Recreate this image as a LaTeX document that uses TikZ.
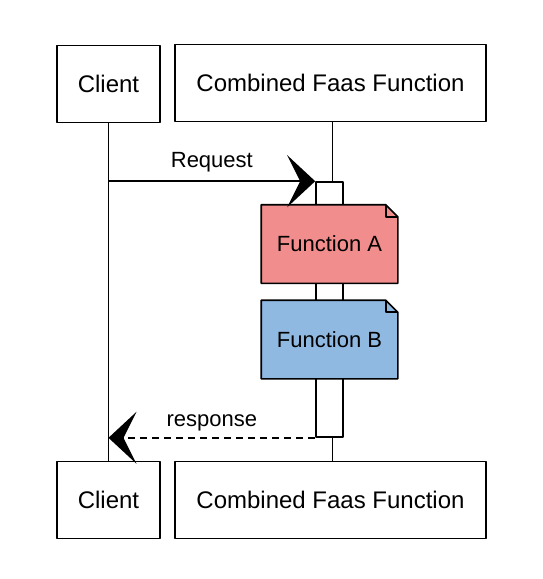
\documentclass[tikz,border=0pt]{standalone}
\usepackage{fontspec}
\setmainfont{Liberation Sans}
\usetikzlibrary{arrows.meta}
\definecolor{notered}{HTML}{F28D8D}
\definecolor{noteblue}{HTML}{8FB9E1}
\tikzstyle{actor} = [rectangle, draw, fill=white, minimum height=77pt,
    inner sep=0pt, font=\fontsize{24}{28}\selectfont]
\tikzstyle{note} = [rectangle, minimum width=135pt, minimum height=77pt,
    inner sep=0pt, font=\fontsize{22}{26}\selectfont]
\tikzstyle{bar} = [rectangle, draw, fill=white, minimum width=27pt,
    minimum height=255pt, inner sep=0pt]
\tikzstyle{msg} = [font=\fontsize{22}{26}\selectfont]
\tikzset{tip/.style={-{Stealth[length=28pt,width=52pt,inset=13pt]}}}
% outline of a note with its folded corner
\newcommand{\notefold}[2]{%
  \fill[#2] (#1.north west) -- ([xshift=-12pt]#1.north east)
     -- ([yshift=-12pt]#1.north east) -- (#1.south east) -- (#1.south west) -- cycle;
  \draw (#1.north west) -- ([xshift=-12pt]#1.north east)
     -- ([yshift=-12pt]#1.north east) -- (#1.south east) -- (#1.south west) -- cycle;
  \draw ([xshift=-12pt]#1.north east) -- ([xshift=-12pt,yshift=-12pt]#1.north east)
     -- ([yshift=-12pt]#1.north east);}

\begin{document}
\begin{tikzpicture}[x=1pt,y=-1pt,line width=1.6pt,line join=round]
  \useasboundingbox (0,0) rectangle (543,579);

  \node[actor,minimum width=103pt] (clientT) at (108.5,84)  {Client};
  \node[actor,minimum width=311pt] (faasT)   at (330.5,83)  {Combined Faas Function};
  \node[actor,minimum width=103pt] (clientB) at (108.5,500) {Client};
  \node[actor,minimum width=311pt] (faasB)   at (330.5,500) {Combined Faas Function};

  % lifelines
  \draw (clientT.south) -- (clientB.north);
  \draw ([xshift=2pt]faasT.south) -- ([xshift=2pt]faasB.north);

  \node[bar] (act) at (329.5,309.5) {};

  \node[note] (fnA) at (329.5,244)   {};
  \notefold{fnA}{notered}
  \node[note] at (fnA) {Function A};
  \node[note] (fnB) at (329.5,339.5) {};
  \notefold{fnB}{noteblue}
  \node[note] at (fnB) {Function B};

  \coordinate (reqStart) at (clientT.south |- act.north);
  \coordinate (resEnd)   at (clientT.south |- act.south);

  \draw[tip] (reqStart) -- (act.north west)
      node[msg,midway,above=5pt] {Request};
  \draw[tip,dashed,dash pattern=on 7pt off 5pt] (act.south west) -- (resEnd)
      node[msg,midway,above=3pt] {response};
\end{tikzpicture}
\end{document}
